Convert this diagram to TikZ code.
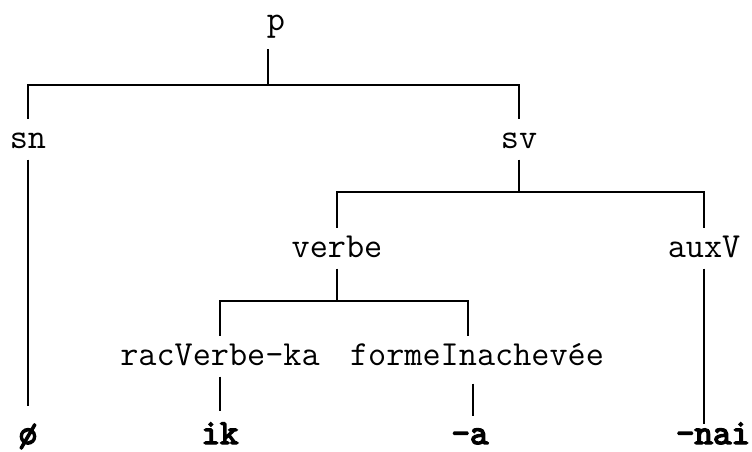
\documentclass[tikz,border=0pt]{standalone}
\usepackage{fontspec}
\newfontfamily\leaffont{lmmono10-regular.otf}[FakeBold=4]
\begin{document}
\begin{tikzpicture}[x=1pt,y=-1pt,line width=2.6pt,
  cat/.style={font=\fontsize{35.2}{40}\selectfont\ttfamily,anchor=base,
    inner xsep=0pt,inner ysep=10pt,text height=18pt},
  leaf/.style={font=\leaffont\fontsize{35.2}{40}\selectfont,anchor=base,
    inner xsep=0pt,inner ysep=0pt,text height=15pt}]
\useasboundingbox (0,0) rectangle (752,451);
% categories
\node[cat] (p)     at (276,30)  {p};
\node[cat] (sn)    at (28,148)  {sn};
\node[cat] (sv)    at (519,148) {sv};
\node[cat] (verbe) at (337,257) {verbe};
\node[cat] (auxV)  at (704,257) {auxV};
\node[cat] (rac)   at (220,365) {racVerbe-ka};
\node[cat] (forme) at (477,365) {formeInachevée};
% leaves
\node[leaf] (zero) at (28,444)  {ø};
\node[leaf] (ik)   at (220,444) {ik};
\node[leaf] (a)    at (470,444) {-a};
\node[leaf] (nai)  at (713,444) {-nai};
% bars
\coordinate (b1) at (268,85);
\coordinate (b2) at (519,192);
\coordinate (b3) at (337,301);
\coordinate (fm) at ([xshift=-9pt]forme.north);
\draw (p.south -| b1) -- (b1);
\draw (sn.north) |- (b1) -| (sv.north);
\draw (sv.south) -- (b2);
\draw (verbe.north) |- (b2) -| (auxV.north);
\draw (verbe.south) -- (b3);
\draw (rac.north) |- (b3) -| (fm);
% leaf connectors
\draw[shorten >=22pt] (sn.south) -- (sn.south |- zero.north);
\draw[shorten >=17pt] (rac.south) -- (rac.south |- ik.north);
\draw[shorten <=7pt,shorten >=12pt] ([xshift=-4pt]forme.south) -- ([xshift=-4pt]forme.south |- a.north);
\draw[shorten >=4pt] (auxV.south) -- (auxV.south |- nai.north);
\end{tikzpicture}
\end{document}
